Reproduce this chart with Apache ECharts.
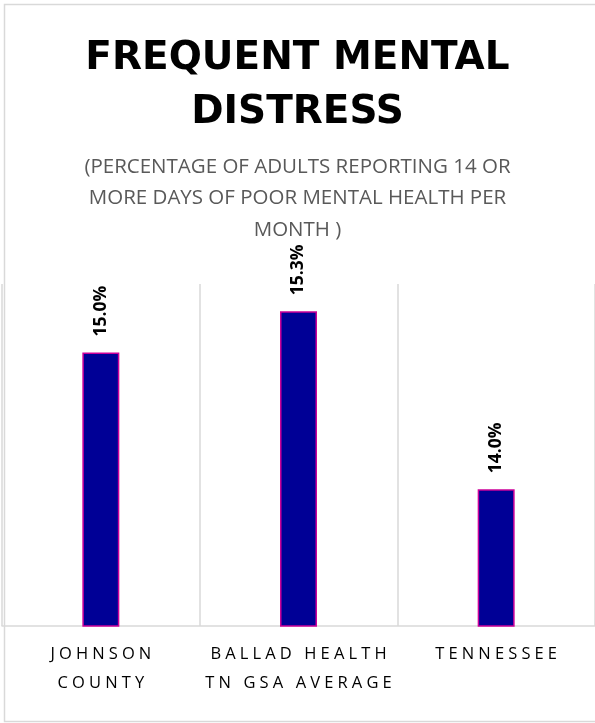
<!DOCTYPE html>
<html><head><meta charset="utf-8">
<script src="https://cdn.jsdelivr.net/npm/echarts@6/dist/echarts.min.js"></script>
<style>html,body{margin:0;padding:0;background:#fff}#c{width:595px;height:723px}</style>
</head><body><div id="c"></div>
<script>
const categories = ['JOHNSON\nCOUNTY', 'BALLAD HEALTH\nTN GSA AVERAGE', 'TENNESSEE'];
const values = [15.0, 15.3, 14.0];
const titleText = 'FREQUENT MENTAL\nDISTRESS';
const subtitleText = '(PERCENTAGE OF ADULTS REPORTING 14 OR\nMORE DAYS OF POOR MENTAL HEALTH PER\nMONTH )';

// visual letter spacing for axis labels (text unchanged apart from spacing)
const spaced = s => s.split('\n').map(l => l.split('').join('\u2005')).join('\n');

const chart = echarts.init(document.getElementById('c'), null, {renderer: 'canvas'});
chart.setOption({
  animation: false,
  backgroundColor: '#fff',
  title: [{
    text: titleText, left: 'center', top: 27,
    textStyle: {fontFamily: 'DejaVu Sans', fontWeight: 'bold', fontSize: 39, lineHeight: 54, color: '#000'}
  }, {
    text: subtitleText, left: 'center', top: 146,
    textStyle: {fontFamily: 'Open Sans', fontWeight: 'normal', fontSize: 20.5, lineHeight: 31.5, color: '#595959'}
  }],
  graphic: [{
    type: 'rect', left: 2, top: 2, shape: {x: 0, y: 0, width: 620, height: 717},
    style: {fill: 'none', stroke: '#d9d9d9', lineWidth: 1.5}, silent: true
  }],
  grid: {left: 2, right: 0, top: 284, bottom: 97, containLabel: false},
  xAxis: {
    type: 'category', data: categories,
    axisLine: {show: true, lineStyle: {color: '#d9d9d9', width: 1.5}},
    axisTick: {show: false},
    splitLine: {show: true, lineStyle: {color: '#d9d9d9', width: 1.5}},
    axisLabel: {margin: 14, fontFamily: 'Open Sans', fontSize: 16.5, lineHeight: 29, color: '#000', interval: 0,
      formatter: v => spaced(v)}
  },
  yAxis: {
    type: 'value', min: 13, max: 15.5, show: false, splitLine: {show: false}
  },
  series: [{
    type: 'bar', data: values, barWidth: 37,
    itemStyle: {color: '#000096', borderColor: '#CC0099', borderWidth: 1.5},
    label: {
      show: true, position: 'top', rotate: 90, distance: 16, align: 'left', verticalAlign: 'middle',
      formatter: p => p.value.toFixed(1) + '%',
      fontFamily: 'Open Sans', fontWeight: 'bold', fontSize: 17.5, color: '#000'
    }
  }]
});
</script></body></html>
